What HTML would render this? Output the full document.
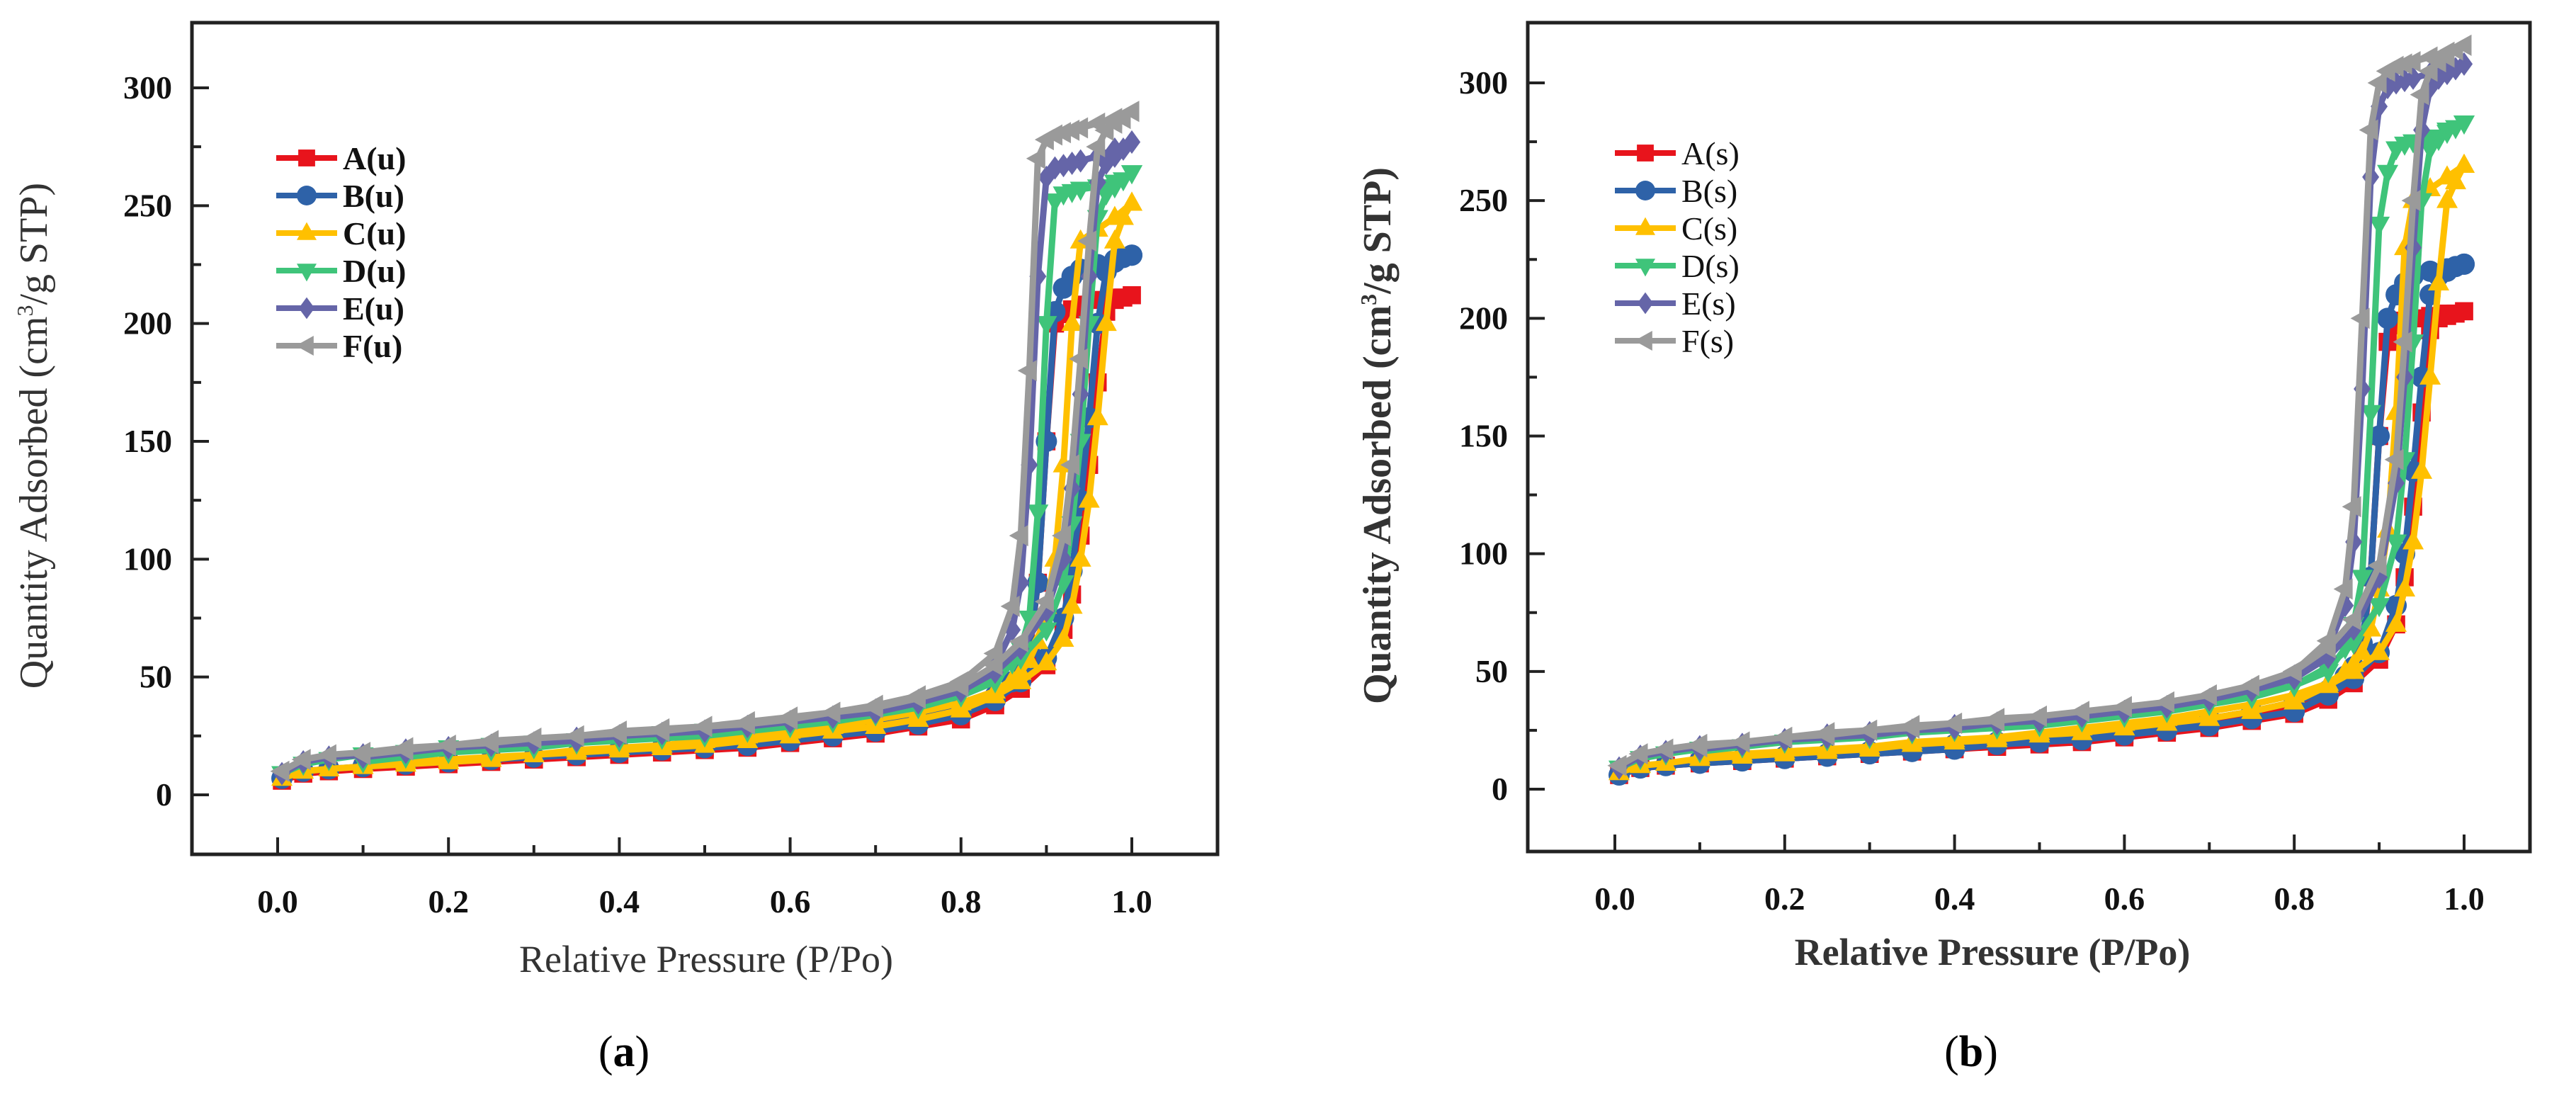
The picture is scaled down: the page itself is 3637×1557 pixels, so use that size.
<!DOCTYPE html>
<html><head><meta charset="utf-8"><style>
html,body{margin:0;padding:0;background:#fff;}
svg{display:block;font-family:"Liberation Serif",serif;}
</style></head><body>
<svg id="fig" width="3637" height="1557" viewBox="0 0 3637 1557" xmlns="http://www.w3.org/2000/svg"></svg>
<script>
const adsX=[0.005,0.03,0.06,0.1,0.15,0.2,0.25,0.3,0.35,0.4,0.45,0.5,0.55,0.6,0.65,0.7,0.75,0.8,0.84,0.87,0.9,0.92,0.93,0.94,0.95,0.96,0.97,0.98,0.99,1.0];
const desX=[1.0,0.98,0.96,0.94,0.93,0.92,0.91,0.9,0.89,0.88,0.87,0.86,0.84,0.8,0.75,0.7,0.65,0.6,0.55,0.5,0.45,0.4,0.35,0.3,0.25,0.2,0.15,0.1];
const xTicks=[0,0.2,0.4,0.6,0.8,1.0];
const xTickLabels=["0.0","0.2","0.4","0.6","0.8","1.0"];
const yTicks=[0,50,100,150,200,250,300];
const yTickLabels=["0","50","100","150","200","250","300"];
const labelsA=["A(u)","B(u)","C(u)","D(u)","E(u)","F(u)"];
const labelsB=["A(s)","B(s)","C(s)","D(s)","E(s)","F(s)"];
// panel a
const aAds_A=[6,9,10,11,12,13,14,15,16,17,18,19,20,22,24,26,29,32,38,45,55,70,85,110,140,175,205,210,211,212];
const aDes_A=[212,211,210,208,206,204,200,150,90,60,50,46,40,35,31,28,25,23,21,20,18,17,16,15,14,13,12,11];
const aAds_B=[7,10,11,12,13,14,15,16,17,18,19,20,21,23,25,27,30,34,40,48,58,75,95,125,160,200,222,226,228,229];
const aDes_B=[229,227,225,223,220,215,205,150,90,62,52,48,42,37,33,30,27,25,23,21,20,19,17,16,15,14,13,12];
const aAds_C=[7,10,11,12,13,14,15,17,18,19,20,21,23,25,27,29,32,36,42,48,56,66,80,100,125,160,200,235,245,251];
const aDes_C=[251,245,240,235,200,140,100,80,65,57,52,49,44,39,35,32,29,27,25,23,21,20,19,17,16,15,14,13];
const aAds_D=[9,13,15,17,18,20,21,22,23,24,26,27,28,30,32,34,38,42,50,58,70,90,115,150,200,245,255,258,261,264];
const aDes_D=[264,260,258,257,256,255,252,200,120,75,62,56,48,42,37,34,31,29,27,25,24,23,22,20,19,18,16,14];
const aAds_E=[9,14,16,17,19,20,21,22,23,25,26,27,29,31,33,35,39,44,52,62,78,100,130,170,220,260,268,271,274,277];
const aDes_E=[277,274,271,269,268,267,266,262,220,140,90,70,55,45,40,36,33,31,29,27,26,25,24,22,21,20,18,16];
const aAds_F=[10,15,17,18,20,21,22,24,25,26,27,29,30,32,35,37,41,46,55,65,82,110,140,185,235,275,282,285,287,290];
const aDes_F=[290,287,285,283,282,281,280,278,270,180,110,80,60,48,42,38,35,33,31,29,28,27,25,24,23,21,19,17];
// panel b
const bAds_A=[6,9,10,11,12,13,14,15,16,17,18,19,20,22,24,26,29,32,38,45,55,70,90,120,160,195,200,201,202,203];
const bDes_A=[203,202,201,200,199,197,190,150,90,60,50,46,40,35,31,28,25,23,21,20,18,17,16,15,14,13,12,11];
const bAds_B=[6,9,10,11,12,13,14,15,16,17,19,20,21,23,25,27,30,33,40,47,58,78,100,135,175,210,218,220,222,223];
const bDes_B=[223,221,220,218,215,210,200,150,90,62,52,48,42,37,33,30,27,25,23,21,20,19,17,16,15,14,13,12];
const bAds_C=[7,10,11,13,14,15,16,17,19,20,21,23,24,26,28,30,33,37,44,50,58,70,85,105,135,175,215,250,258,265];
const bDes_C=[265,260,255,250,230,160,110,85,68,58,53,50,45,40,36,33,30,28,26,24,22,21,20,18,17,16,15,14];
const bAds_D=[9,13,15,17,18,20,21,22,24,25,27,28,30,32,34,36,40,44,52,62,78,105,140,190,250,272,276,279,281,283];
const bDes_D=[283,280,277,275,274,272,262,240,160,90,70,60,50,44,39,36,33,31,29,27,26,25,24,22,21,20,18,16];
const bAds_E=[9,14,16,18,19,21,22,23,25,26,28,29,31,33,35,38,42,47,56,68,90,130,175,230,280,298,302,304,306,308];
const bDes_E=[308,306,304,302,301,300,298,290,260,170,105,78,60,48,42,38,35,33,31,29,28,27,25,24,23,21,19,17];
const bAds_F=[10,15,17,19,20,22,23,25,26,28,29,31,33,35,37,40,44,50,60,72,95,140,190,250,295,305,309,311,314,316];
const bDes_F=[316,313,311,309,308,307,305,300,280,200,120,85,63,50,44,40,37,35,33,31,30,28,27,25,24,22,20,18];

const colors=["#e8141c","#2e62a8","#ffc000","#3fc47a","#6565a8","#9a9a9a"];
const shapes=["square","circle","up","down","diamond","left"];
const NS="http://www.w3.org/2000/svg";
const svg=document.getElementById('fig');
function mk(tag,attrs,parent){const e=document.createElementNS(NS,tag);for(const k in attrs)e.setAttribute(k,attrs[k]);(parent||svg).appendChild(e);return e;}
function marker(g,shape,cx,cy,r,color){
  let e;
  if(shape==="square") e=mk('rect',{x:cx-r*0.85,y:cy-r*0.85,width:r*1.7,height:r*1.7,fill:color},g);
  else if(shape==="circle") e=mk('circle',{cx:cx,cy:cy,r:r,fill:color},g);
  else {
    let p;
    if(shape==="up") p=[[cx,cy-r*1.1],[cx+r,cy+r*0.7],[cx-r,cy+r*0.7]];
    else if(shape==="down") p=[[cx,cy+r*1.1],[cx+r,cy-r*0.7],[cx-r,cy-r*0.7]];
    else if(shape==="diamond") p=[[cx,cy-r*1.1],[cx+r*0.8,cy],[cx,cy+r*1.1],[cx-r*0.8,cy]];
    else p=[[cx-r*1.1,cy],[cx+r*0.7,cy-r],[cx+r*0.7,cy+r]];
    e=mk('polygon',{points:p.map(q=>q.join(',')).join(' '),fill:color},g);
  }
  return e;
}
function panel(cfg){
  const sx=v=>cfg.x0+(v)*(cfg.x1-cfg.x0);
  const sy=v=>cfg.y0-(v/300)*(cfg.y0-cfg.y300);
  const g=mk('g',{});
  
  
  const sg=mk('g',{},g);
  
  
  cfg.series.forEach((s,i)=>{
    const grp=mk('g',{},sg);
    
    
    const pts=adsX.map((x,j)=>[sx(x),sy(s[0][j])]).concat(desX.map((x,j)=>[sx(x),sy(s[1][j])]));
    mk('polyline',{points:pts.map(p=>p.join(',')).join(' '),fill:'none',stroke:colors[i],'stroke-width':9,'stroke-linejoin':'round'},grp);
    pts.forEach(p=>{const m=marker(grp,shapes[i],p[0],p[1],15,colors[i]);
      
      });
  });
  const fr=mk('rect',{x:cfg.fl,y:cfg.ft,width:cfg.fr-cfg.fl,height:cfg.fb-cfg.ft,fill:'none',stroke:'#222','stroke-width':5},g);
  
  
  for(let v=0;v<=1.0001;v+=0.1){const X=sx(v);const major=Math.round(v*10)%2===0;
    mk('line',{x1:X,y1:cfg.fb,x2:X,y2:cfg.fb-(major?24:13),stroke:'#222','stroke-width':4},g);}
  xTicks.forEach((v,i)=>{const t=mk('text',{x:sx(v),y:cfg.fb+82,'font-size':46,'font-weight':'bold','text-anchor':'middle',fill:'#111'},g);t.textContent=xTickLabels[i];
    
    });
  for(let v=0;v<=300;v+=25){const Y=sy(v);const major=v%50===0;
    mk('line',{x1:cfg.fl,y1:Y,x2:cfg.fl+(major?24:13),y2:Y,stroke:'#222','stroke-width':4},g);}
  yTicks.forEach((v,i)=>{const t=mk('text',{x:cfg.fl-28,y:sy(v)+15,'font-size':46,'font-weight':'bold','text-anchor':'end',fill:'#111'},g);t.textContent=yTickLabels[i];
    
    });
  const xt=mk('text',{x:cfg.xtX,y:cfg.xtY,'font-size':54,'font-weight':cfg.bold?'bold':'normal','text-anchor':'middle',fill:'#333'},g);
  xt.textContent='Relative Pressure (P/Po)';
  
  
  const yt=mk('text',{x:0,y:0,'font-size':56,'font-weight':cfg.bold?'bold':'normal','text-anchor':'middle',fill:'#333',transform:`translate(${cfg.ytX},${cfg.ytY}) rotate(-90)`},g);
  yt.innerHTML='Quantity Adsorbed (cm<tspan dy="-20" font-size="32">3</tspan><tspan dy="20">/g STP)</tspan>';
  
  
  const lg=mk('g',{},g);
  
  
  cfg.labels.forEach((lab,i)=>{const Y=cfg.legY+i*53;
    const e=mk('g',{},lg);
    
    
    mk('line',{x1:cfg.legX,y1:Y,x2:cfg.legX+86,y2:Y,stroke:colors[i],'stroke-width':8},e);
    marker(e,shapes[i],cfg.legX+43,Y,14,colors[i]);
    const t=mk('text',{x:cfg.legX+94,y:Y+16,'font-size':46,'font-weight':cfg.bold?'normal':'bold',fill:'#111'},e);t.textContent=lab;});
  const cap=mk('text',{x:cfg.capX,y:1505,'font-size':62,'text-anchor':'middle',fill:'#000'},g);
  cap.innerHTML='(<tspan font-weight="bold">'+cfg.cap+'</tspan>)';
  
  
}
panel({name:'panel-a',x0:392,x1:1598,y0:1122,y300:124,fl:271,fr:1719,ft:32,fb:1206,
  series:[[aAds_A,aDes_A],[aAds_B,aDes_B],[aAds_C,aDes_C],[aAds_D,aDes_D],[aAds_E,aDes_E],[aAds_F,aDes_F]],
  labels:labelsA,bold:false,xtX:997,xtY:1372,ytX:66,ytY:615,legX:390,legY:223,capX:881,cap:'a'});
panel({name:'panel-b',x0:2280,x1:3479,y0:1114,y300:117,fl:2157,fr:3572,ft:32,fb:1202,
  series:[[bAds_A,bDes_A],[bAds_B,bDes_B],[bAds_C,bDes_C],[bAds_D,bDes_D],[bAds_E,bDes_E],[bAds_F,bDes_F]],
  labels:labelsB,bold:true,xtX:2813,xtY:1362,ytX:1963,ytY:615,legX:2280,legY:216,capX:2783,cap:'b'});
</script>
</body></html>
